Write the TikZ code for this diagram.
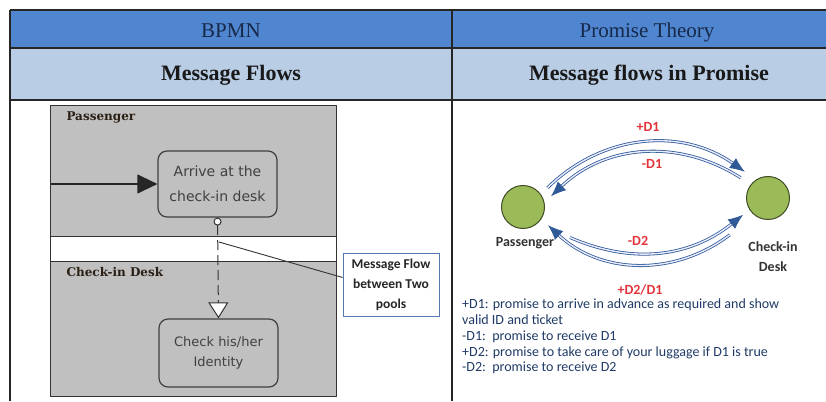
\documentclass[tikz,border=0pt]{standalone}
\usepackage{fontspec}
\setmainfont{Liberation Serif}
\newfontfamily\calib{Carlito}
\newfontfamily\taho{DejaVu Sans}
\newfontfamily\poolf{DejaVu Serif}
\usetikzlibrary{arrows.meta,calc}
\definecolor{hdrblue}{HTML}{4F86CF}
\definecolor{subblue}{HTML}{B9CDE5}
\definecolor{hdrtext}{HTML}{17294A}
\definecolor{poolgray}{HTML}{C0C0C0}
\definecolor{poolink}{HTML}{2A1F14}
\definecolor{flowblue}{HTML}{2F5A97}
\definecolor{lblred}{HTML}{E3343C}
\definecolor{agentgreen}{HTML}{9BBB59}
\definecolor{legendtext}{HTML}{1F3A66}
\definecolor{notebd}{HTML}{5479B0}
\begin{document}
\begin{tikzpicture}[x=1pt, y=1pt, line join=round,
  task/.style={draw=black!75, line width=1.2pt, fill=poolgray, rounded corners=9pt, minimum width=119pt, align=center, font=\taho\fontsize{14}{25}\selectfont, text=black!75},
  lane/.style={anchor=base west, font=\poolf\bfseries\fontsize{12}{14}\selectfont, text=poolink},
  agent/.style={circle, draw=black!60!agentgreen, line width=1pt, fill=agentgreen, minimum size=43pt, inner sep=0pt},
  promise/.style={draw=flowblue, line width=0.8pt, double=blue!8!white, double distance=1.4pt, -{Latex[length=15pt,width=12pt]}},
  plbl/.style={text=lblred, font=\calib\bfseries\fontsize{14}{16}\selectfont},
  hdr/.style={font=\fontsize{21}{24}\selectfont, text=hdrtext, anchor=base},
  sub/.style={font=\bfseries\fontsize{22}{24}\selectfont, text=black!90, anchor=base}]
\useasboundingbox (0,0) rectangle (826,401);
% table
\fill[hdrblue] (10,353) rectangle (826,391);
\fill[subblue] (10,301) rectangle (826,353);
\draw[line width=1.3pt, black!85] (10,391) -- (826,391) (10,353) -- (826,353) (10,301) -- (826,301)
  (10,391) -- (10,0) (452,391) -- (452,0);
\node[hdr] (bpmn) at (231,363) {BPMN};
\node[hdr] (ptheory) at (647,363) {Promise Theory};
\node[sub] (mflows) at (231,320) {Message Flows};
\node[sub] (mpromise) at (649,320) {Message flows in Promise};
% BPMN pools
\fill[poolgray] (50,164) rectangle (336,295);
\fill[poolgray] (50,5) rectangle (336,139);
\draw[black!80, line width=1pt] (50,5) rectangle (336,295) (50,164) -- (336,164) (50,139) -- (336,139);
\node[lane] (paslane) at (63,280) {Passenger};
\node[lane] (desklane) at (63,124) {Check-in Desk};
\node[task, minimum height=66pt] (arrive) at (217.5,217) {Arrive at the\\check-in desk};
\node[task, minimum height=68pt, font=\taho\fontsize{13}{20}\selectfont] (verify) at (218.5,48) {Check his/her\\Identity};
\coordinate (entry) at (51,217);
\draw[black!85, line width=1.2pt, -{Triangle[length=20pt,width=19pt]}] (entry) -- (arrive.west);
\draw[black!80, line width=1pt, dash pattern=on 10pt off 5pt,
  {Circle[fill=white,length=8pt]}-{Triangle[fill=white,length=16pt,width=20pt]}] (arrive.south) -- (verify.north);
\node[draw=notebd, line width=0.8pt, fill=white, minimum width=96pt, minimum height=63pt, align=center, inner sep=2pt,
  font=\calib\bfseries\fontsize{13.5}{20}\selectfont, text=black!85] (note) at (391,116.5) {Message Flow\\between Two\\pools};
\coordinate (tap) at (219,159);
\draw[black!80, line width=0.9pt] (tap) -- ([yshift=7pt]note.west);
% promise agents
\node[agent] (pas) at (523,194) {};
\node[agent] (chk) at (768,203) {};
\node[font=\calib\bfseries\fontsize{14}{20}\selectfont, text=black!80, anchor=base] (paslbl) at (525,154) {Passenger};
\node[font=\calib\bfseries\fontsize{14}{20}\selectfont, text=black!80, anchor=base, align=center] (chklbl) at (773,129) {Check-in\\Desk};
\draw[promise] ($(pas)+(38:31)$) to[bend left=40] ($(chk)+(131.5:35)$);
\draw[promise] ($(chk)+(143.5:34)$) to[bend right=38] ($(pas)+(21:30)$);
\draw[promise] ($(pas)+(-33:56)$) to[bend right=31] ($(chk)+(214:30)$);
\draw[promise] ($(chk)+(224:53)$) to[bend left=40] ($(pas)+(-36:31)$);
\node[plbl] (d1plus) at (648,274) {+D1};
\node[plbl] (d1minus) at (652,237) {-D1};
\node[plbl] (d2minus) at (638,160) {-D2};
\node[plbl, inner sep=1pt] (d2plus) at (640,111) {+D2/D1};
\node[anchor=base west, align=left, inner sep=0pt, font=\calib\fontsize{14}{15.7}\selectfont, text=legendtext] (legend) at (462,29.2)
  {+D1: promise to arrive in advance as required and show\\valid ID and ticket\\-D1:\ \ promise to receive D1\\+D2: promise to take care of your luggage if D1 is true\\-D2:\ \ promise to receive D2};
\end{tikzpicture}
\end{document}
